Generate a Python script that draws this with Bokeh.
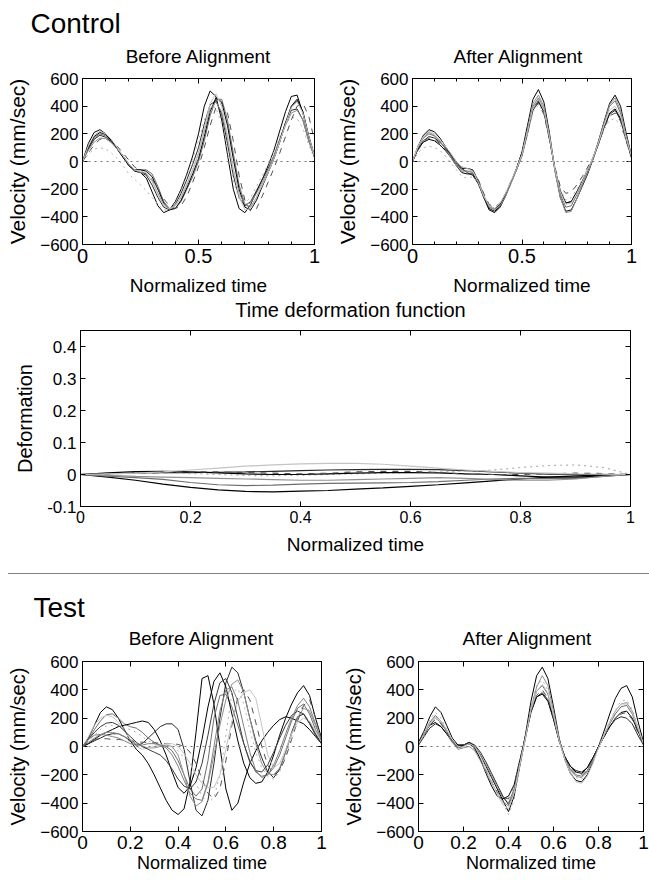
import numpy as np
from bokeh.plotting import figure
from bokeh.layouts import column, row
from bokeh.models import Span, FixedTicker, LinearAxis, Label, Range1d, Div
from bokeh.embed import file_html
from bokeh.resources import INLINE

FONT = "Liberation Sans"

# ---------------- data ----------------
# velocity samples every 0.025 of normalized time (41 samples per curve)
ctrl_before = [
    [0,130,210,230,200,150,90,30,-30,-70,-80,-120,-220,-320,-370,-350,-290,-200,-90,40,200,400,510,470,300,50,-200,-340,-370,-310,-220,-130,-30,80,220,360,470,480,350,170,30],
    [0,100,170,200,185,145,95,40,-20,-60,-60,-60,-90,-180,-290,-340,-340,-290,-200,-110,0,150,330,450,450,300,60,-170,-310,-330,-260,-170,-80,20,140,270,390,440,360,190,40],
    [0,90,160,190,175,140,90,40,-20,-60,-80,-100,-170,-260,-330,-350,-310,-230,-130,-20,100,270,410,440,340,130,-100,-260,-320,-290,-210,-130,-50,40,160,280,370,380,300,150,30],
    [0,50,90,100,90,60,20,-30,-90,-130,-170,-210,-260,-310,-350,-350,-300,-210,-100,20,150,300,400,390,270,70,-140,-270,-300,-260,-180,-100,-20,70,180,270,320,310,240,120,20],
    [0,100,180,210,195,150,90,30,-30,-60,-60,-70,-110,-200,-300,-350,-340,-280,-190,-90,20,180,360,460,430,260,20,-200,-330,-350,-280,-180,-80,20,140,280,400,450,360,180,40],
    [0,80,140,170,165,135,90,40,-20,-60,-80,-90,-140,-230,-310,-340,-320,-260,-170,-60,60,220,380,430,360,170,-60,-230,-310,-300,-230,-150,-60,40,150,260,350,370,300,150,30],
    [0,60,120,160,170,150,110,60,10,-40,-70,-90,-130,-200,-270,-320,-340,-320,-250,-150,-40,100,260,390,420,350,150,-100,-280,-360,-340,-250,-150,-50,60,180,300,400,420,330,150],
    [0,110,190,220,200,160,100,40,-20,-60,-70,-80,-140,-240,-320,-345,-320,-250,-160,-60,60,240,420,490,400,190,-60,-250,-350,-340,-260,-170,-80,20,140,270,390,430,350,180,40],
]
ctrl_after = [
    [0,110,190,230,215,170,110,50,-10,-50,-50,-60,-140,-260,-350,-370,-330,-250,-150,-50,70,260,450,520,430,210,-60,-260,-360,-350,-270,-180,-90,20,150,290,420,480,400,210,40],
    [0,100,170,200,185,145,95,40,-20,-60,-70,-80,-160,-260,-330,-345,-310,-240,-150,-60,50,220,400,460,380,180,-60,-240,-330,-320,-240,-160,-70,30,150,280,400,440,350,180,30],
    [0,90,150,180,170,140,100,50,0,-50,-80,-100,-160,-250,-320,-340,-310,-240,-150,-60,40,200,370,430,360,170,-50,-210,-300,-290,-220,-140,-60,30,140,250,340,370,300,160,30],
    [0,60,100,110,100,80,40,-10,-60,-110,-120,-110,-150,-240,-320,-350,-320,-250,-160,-60,40,200,360,410,350,170,-40,-200,-280,-260,-200,-130,-50,30,130,230,300,310,260,140,20],
    [0,90,140,160,150,120,80,30,-30,-80,-90,-90,-150,-250,-340,-360,-320,-240,-150,-50,60,230,390,440,360,170,-50,-220,-300,-290,-220,-150,-70,20,130,250,350,380,310,170,30],
    [0,100,180,210,190,150,90,30,-30,-70,-70,-70,-130,-240,-330,-350,-320,-250,-160,-60,50,230,420,480,400,190,-70,-260,-370,-360,-270,-170,-80,20,140,280,410,460,370,190,40],
    [0,80,140,170,160,130,90,40,-10,-40,-50,-60,-130,-230,-310,-330,-300,-230,-140,-50,60,220,380,420,340,160,-40,-180,-230,-220,-170,-110,-40,30,130,240,330,350,290,150,30],
    [0,110,180,220,200,160,110,60,0,-40,-50,-70,-150,-250,-320,-340,-300,-230,-140,-50,50,220,390,450,370,180,-50,-220,-310,-300,-230,-150,-60,30,140,260,370,400,330,170,40],
]
test_before = [
    [0,60,150,240,280,260,200,120,40,-20,-60,-120,-200,-290,-380,-450,-480,-440,-250,100,480,500,300,0,-300,-450,-400,-250,-120,-30,40,100,150,190,210,200,180,160,120,70,20],
    [0,50,120,180,225,230,200,160,140,130,100,60,30,10,0,-30,-100,-200,-300,-350,-300,-100,200,360,370,280,150,20,-100,-180,-210,-200,-150,-60,60,180,270,300,230,120,30],
    [0,20,40,60,80,90,90,70,40,10,20,60,100,140,160,160,120,-20,-250,-450,-490,-380,-120,200,450,560,520,380,200,40,-80,-180,-220,-160,-40,100,210,230,170,90,20],
    [0,40,80,120,145,150,140,130,120,100,70,40,20,10,0,-10,-30,-80,-160,-260,-350,-400,-360,-200,80,380,410,300,120,-40,-150,-210,-230,-180,-70,70,200,300,250,140,40],
    [0,20,50,80,100,120,140,150,160,170,180,170,120,40,-60,-180,-290,-330,-280,-150,50,280,460,520,420,230,40,-120,-220,-260,-250,-180,-60,80,200,300,380,430,360,200,60],
    [0,30,60,85,100,100,90,70,50,20,0,-10,-10,0,10,0,-60,-200,-350,-420,-390,-260,-60,150,330,440,470,380,200,20,-120,-190,-200,-150,-40,90,200,270,250,150,40],
    [0,30,50,55,55,50,50,45,40,35,30,30,25,25,20,20,15,0,-40,-120,-230,-330,-370,-300,-100,150,350,400,330,170,0,-130,-200,-170,-80,50,180,290,330,200,50],
    [0,70,150,200,220,210,170,110,50,0,-20,-10,0,10,20,20,0,-50,-120,-200,-260,-290,-290,-200,-20,180,320,380,400,340,150,-60,-150,-120,-20,90,170,200,180,110,30],
    [0,50,100,140,165,170,150,110,70,30,0,-20,-40,-60,-100,-160,-230,-280,-300,-250,-120,80,300,450,480,380,200,20,-110,-170,-180,-130,-40,60,150,220,250,230,160,80,20],
    [0,50,80,85,80,70,60,40,20,10,10,20,20,10,-10,-60,-140,-240,-330,-370,-380,-250,0,250,400,420,320,140,-40,-170,-220,-200,-130,-30,90,200,290,340,280,160,40],
]
test_after = [
    [30,110,210,280,240,150,60,10,10,30,0,-60,-140,-220,-300,-380,-460,-350,-140,80,320,500,560,480,280,60,-90,-190,-240,-250,-200,-110,0,110,230,340,410,430,350,180,30],
    [20,90,170,220,180,110,30,-10,0,20,0,-60,-130,-210,-290,-360,-400,-300,-110,70,260,390,430,370,210,40,-80,-160,-200,-210,-170,-90,0,80,160,230,280,290,230,120,20],
    [10,70,130,160,140,90,30,0,10,30,10,-40,-110,-190,-270,-350,-410,-330,-130,60,240,350,380,330,200,40,-70,-140,-170,-180,-150,-80,0,70,140,190,210,200,160,80,10],
    [20,100,190,240,200,120,40,0,0,10,-10,-70,-150,-240,-330,-400,-480,-380,-150,50,280,430,470,400,230,40,-90,-180,-220,-230,-180,-100,0,90,180,260,320,330,260,140,20],
    [30,90,150,170,140,90,40,10,10,20,-10,-90,-190,-280,-350,-370,-350,-270,-100,70,250,350,370,320,190,40,-70,-140,-180,-190,-150,-80,0,70,140,200,240,250,200,110,20],
    [20,80,160,200,170,100,30,-20,-10,0,-30,-100,-180,-260,-330,-390,-420,-320,-130,50,270,420,500,430,250,50,-80,-170,-210,-220,-180,-100,-10,80,170,250,300,310,250,130,20],
    [10,80,150,190,160,100,40,0,10,20,-20,-90,-170,-250,-320,-360,-370,-270,-100,70,250,360,400,340,200,40,-80,-150,-190,-200,-160,-90,0,70,140,200,230,240,190,100,10],
    [20,90,160,210,180,120,50,0,0,20,0,-70,-160,-250,-340,-410,-440,-330,-130,60,260,390,440,380,220,40,-90,-190,-250,-260,-210,-120,-10,80,170,250,300,300,240,130,20],
]
# time deformation samples every 0.05 of normalized time (21 samples per curve)
deformation = [
    [0,-0.008,-0.018,-0.03,-0.04,-0.048,-0.053,-0.054,-0.052,-0.05,-0.046,-0.042,-0.037,-0.032,-0.026,-0.02,-0.014,-0.008,-0.004,-0.002,0],
    [0,-0.005,-0.01,-0.015,-0.025,-0.032,-0.035,-0.033,-0.03,-0.028,-0.027,-0.026,-0.025,-0.022,-0.018,-0.014,-0.012,-0.013,-0.012,-0.006,0],
    [0,0.003,0.005,0.006,0.006,0.007,0.008,0.01,0.012,0.014,0.015,0.016,0.016,0.015,0.012,0.008,0.004,0.001,0,0,0],
    [0,0.004,0.006,0.005,0.003,0,-0.003,-0.004,-0.002,0,0.002,0.004,0.006,0.008,0.01,0.014,0.022,0.028,0.03,0.022,0],
    [0,0.005,0.009,0.01,0.008,0.005,0.002,0,0,0.002,0.004,0.006,0.006,0.005,0.002,0,-0.004,-0.008,-0.008,-0.004,0],
    [0,-0.003,-0.006,-0.008,-0.01,-0.012,-0.014,-0.016,-0.018,-0.018,-0.016,-0.014,-0.012,-0.01,-0.012,-0.015,-0.018,-0.018,-0.014,-0.006,0],
    [0,0.002,0.004,0.006,0.008,0.008,0.006,0.004,0.002,0.004,0.008,0.01,0.01,0.006,0.002,0,0,0.002,0.004,0.003,0],
    [0,0.002,0.004,0.008,0.014,0.02,0.026,0.03,0.033,0.035,0.035,0.032,0.026,0.02,0.014,0.01,0.006,0.004,0.002,0.001,0],
]

vel_y_ticks = [-600, -400, -200, 0, 200, 400, 600]
ctrl_x_ticks = [0, 0.5, 1]
ctrl_x_minor = [0.1, 0.2, 0.3, 0.4, 0.6, 0.7, 0.8, 0.9]
test_x_ticks = [0, 0.2, 0.4, 0.6, 0.8, 1]
def_x_ticks = [0, 0.2, 0.4, 0.6, 0.8, 1]
def_y_ticks = [-0.1, 0, 0.1, 0.2, 0.3, 0.4]

curve_colors = ["black", "#6e6e6e", "#2a2a2a", "#b0b0b0", "black", "#909090", "#505050", "#c4c4c4",
                "#3a3a3a", "#808080"]
curve_dash = ["solid", "solid", "solid", "dotted", "solid", "solid", "dashed", "solid", "solid", "solid"]


def labels(ticks):
    return {t: ("%g" % t) for t in ticks}


def style_axis(ax, tick_size, label_size, label, label_standoff):
    ax.axis_line_color = "black"
    ax.major_tick_line_color = "black"
    ax.minor_tick_line_color = "black"
    ax.major_tick_in = 5
    ax.major_tick_out = 0
    ax.minor_tick_in = 3
    ax.minor_tick_out = 0
    ax.major_label_text_font = FONT
    ax.major_label_text_font_size = f"{tick_size}px"
    ax.major_label_text_color = "black"
    ax.major_label_standoff = 4
    ax.axis_label = label
    ax.axis_label_text_font = FONT
    ax.axis_label_text_font_size = f"{label_size}px"
    ax.axis_label_text_font_style = "normal"
    ax.axis_label_text_color = "black"
    ax.axis_label_standoff = label_standoff


def mirror(p, ticker, loc):
    # tick marks on the opposite frame edge, without labels
    ax = LinearAxis(ticker=ticker)
    ax.axis_line_color = "black"
    ax.major_tick_line_color = "black"
    ax.minor_tick_line_color = "black"
    ax.major_tick_in = 5
    ax.major_tick_out = 0
    ax.minor_tick_in = 3
    ax.minor_tick_out = 0
    ax.major_label_text_font_size = "1px"
    ax.major_label_text_color = None
    ax.major_label_standoff = 0
    p.add_layout(ax, loc)


def make_panel(width, height, bl, br, bt, bb, xr, yr, xticker, yticker, xlab, ylab,
               xtick_size, ytick_size, xlab_size, ylab_size, xlab_standoff):
    p = figure(width=width, height=height, x_range=Range1d(*xr), y_range=Range1d(*yr),
               output_backend="svg", toolbar_location=None, title=None,
               min_border_left=bl, min_border_right=br, min_border_top=bt, min_border_bottom=bb)
    p.grid.visible = False
    p.outline_line_color = "black"
    p.outline_line_width = 1
    p.background_fill_color = "white"
    p.border_fill_color = "white"
    style_axis(p.below[0], xtick_size, xlab_size, xlab, xlab_standoff)
    style_axis(p.left[0], ytick_size, ylab_size, ylab, 8)
    p.below[0].ticker = xticker
    p.left[0].ticker = yticker
    mirror(p, xticker, "above")
    mirror(p, yticker, "right")
    return p


def header(height):
    # a strip holding heading texts; its ranges equal its pixel size
    h = figure(width=649, height=height, x_range=Range1d(0, 649), y_range=Range1d(0, height),
               output_backend="svg", toolbar_location=None, title=None,
               x_axis_type=None, y_axis_type=None,
               min_border_left=0, min_border_right=0, min_border_top=0, min_border_bottom=0)
    h.outline_line_color = None
    h.background_fill_color = "white"
    h.border_fill_color = "white"
    return h


def text_label(p, text, x, y, size, align):
    p.add_layout(Label(x=x, y=y, text=text, text_font=FONT, text_font_size=f"{size}px",
                       text_color="black", text_align=align, text_baseline="alphabetic"))


def velocity_panel(curves, width, bl, br, bt, bb, xticks, xminor, xtick_size, xlab_size, ylab_size,
                   xlab_standoff):
    p = make_panel(width, bt + 170 + bb, bl, br, bt, bb, (0, 1), (-600, 600),
                   FixedTicker(ticks=xticks, minor_ticks=xminor),
                   FixedTicker(ticks=vel_y_ticks, minor_ticks=[]),
                   "Normalized time", "Velocity (mm/sec)", xtick_size, 17, xlab_size, ylab_size,
                   xlab_standoff)
    p.below[0].major_label_overrides = labels(xticks)
    p.add_layout(Span(location=0, dimension="width", line_color="#777777", line_dash="dotted",
                      line_width=1))
    for k, v in enumerate(curves):
        p.line(np.linspace(0, 1, len(v)), v, line_color=curve_colors[k % len(curve_colors)],
               line_dash=curve_dash[k % len(curve_dash)], line_width=1)
    return p


# ---------------- control ----------------
h1 = header(70)
text_label(h1, "Control", 30, 47, 28, "left")
text_label(h1, "Before Alignment", 198, 14, 19, "center")
text_label(h1, "After Alignment", 518, 14, 19, "center")

cb = velocity_panel(ctrl_before, 333, 82, 19, 8, 50, ctrl_x_ticks, ctrl_x_minor, 20, 19, 21, 9)
ca = velocity_panel(ctrl_after, 316, 73, 18, 8, 50, ctrl_x_ticks, ctrl_x_minor, 20, 19, 21, 9)

# ---------------- deformation ----------------
h2 = header(29)
text_label(h2, "Time deformation function", 350, 18, 20, "center")

dp = make_panel(649, 3 + 176 + 56, 80, 19, 3, 56, (0, 1), (-0.1, 0.45),
                FixedTicker(ticks=def_x_ticks, minor_ticks=[]),
                FixedTicker(ticks=def_y_ticks, minor_ticks=[]),
                "Normalized time", "Deformation", 16, 17, 19, 20, 8)
dp.below[0].major_label_overrides = labels(def_x_ticks)
dp.left[0].major_label_overrides = labels(def_y_ticks)
for k, v in enumerate(deformation):
    dp.line(np.linspace(0, 1, len(v)), v, line_color=curve_colors[k % len(curve_colors)],
            line_dash=curve_dash[k % len(curve_dash)], line_width=1.2)

sep = Div(text='<div style="margin-left:8px;margin-top:9px;height:1px;width:641px;background:#808080"></div>',
          width=649, height=18, margin=(0, 0, 0, 0))

# ---------------- test ----------------
h3 = header(73)
text_label(h3, "Test", 33, 46, 28, "left")
text_label(h3, "Before Alignment", 201, 15, 19, "center")
text_label(h3, "After Alignment", 527, 15, 19, "center")

tb = velocity_panel(test_before, 340, 82, 19, 8, 49, test_x_ticks, [], 19, 18, 20, 1)
ta = velocity_panel(test_after, 309, 72, 6, 8, 49, test_x_ticks, [], 19, 18, 20, 1)

layout = column(row(h1), row(cb, ca, spacing=0), row(h2), row(dp), sep, row(h3),
                row(tb, ta, spacing=0), spacing=0)

open("out.html", "w").write(file_html(layout, INLINE))
